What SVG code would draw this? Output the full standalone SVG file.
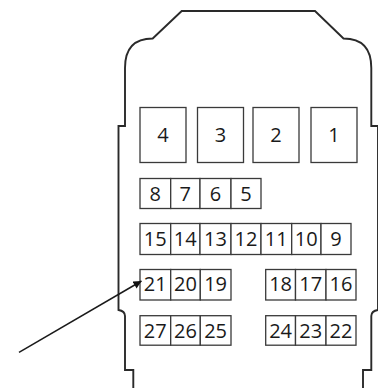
<svg xmlns="http://www.w3.org/2000/svg" width="378" height="388" viewBox="0 0 378 388">
<defs>
<style>
.box{fill:#fff;stroke:#3a3a3a;stroke-width:1.3}
.lbl{font-family:"Open Sans","Noto Sans","Liberation Sans",sans-serif;font-size:20px;font-weight:500;fill:#1a1a1a;text-anchor:middle}
.outline{fill:none;stroke:#2a2a2a;stroke-width:1.9;stroke-linejoin:miter}
.conn{fill:none;stroke:#1a1a1a;stroke-width:1.5}
</style>
<marker id="ah" viewBox="0 0 10 10" refX="10" refY="5" markerWidth="9" markerHeight="8" markerUnits="userSpaceOnUse" orient="auto">
<path d="M0,0 L10,5 L0,10 Z" fill="#111"/>
</marker>
</defs>
<rect width="378" height="388" fill="#fff"/>
<path class="outline" d="M133.3,388 V370 H125 V316 Q125,311 118.5,310 V126 H125 V68 Q125,38.5 152.7,38.5 L181.7,11 H315 L343.5,38.5 Q371.3,38.5 371.3,68 V126 H378 V310 Q371.3,311 371.3,316 V370 H363 V388"/>
<g id="n4"><rect class="box" x="140" y="107.5" width="46" height="55"/><text class="lbl" x="163" y="142">4</text></g>
<g id="n3"><rect class="box" x="197.5" y="107.5" width="46" height="55"/><text class="lbl" x="220.5" y="142">3</text></g>
<g id="n2"><rect class="box" x="253" y="107.5" width="46" height="55"/><text class="lbl" x="276" y="142">2</text></g>
<g id="n1"><rect class="box" x="311" y="107.5" width="46" height="55"/><text class="lbl" x="334" y="142">1</text></g>
<g id="n8"><rect class="box" x="140" y="178.5" width="30.7" height="30"/><text class="lbl" x="155.3" y="200.8">8</text></g>
<g id="n7"><rect class="box" x="170.7" y="178.5" width="29.3" height="30"/><text class="lbl" x="185.3" y="200.8">7</text></g>
<g id="n6"><rect class="box" x="200" y="178.5" width="31" height="30"/><text class="lbl" x="215.5" y="200.8">6</text></g>
<g id="n5"><rect class="box" x="231" y="178.5" width="30" height="30"/><text class="lbl" x="246" y="200.8">5</text></g>
<g id="n15"><rect class="box" x="140" y="223.5" width="30.7" height="31"/><text class="lbl" x="155.3" y="246.3">15</text></g>
<g id="n14"><rect class="box" x="170.7" y="223.5" width="29.3" height="31"/><text class="lbl" x="185.3" y="246.3">14</text></g>
<g id="n13"><rect class="box" x="200" y="223.5" width="31" height="31"/><text class="lbl" x="215.5" y="246.3">13</text></g>
<g id="n12"><rect class="box" x="231" y="223.5" width="30" height="31"/><text class="lbl" x="246" y="246.3">12</text></g>
<g id="n11"><rect class="box" x="261" y="223.5" width="30.7" height="31"/><text class="lbl" x="276.3" y="246.3">11</text></g>
<g id="n10"><rect class="box" x="291.7" y="223.5" width="29.3" height="31"/><text class="lbl" x="306.3" y="246.3">10</text></g>
<g id="n9"><rect class="box" x="321" y="223.5" width="30" height="31"/><text class="lbl" x="336" y="246.3">9</text></g>
<g id="n21"><rect class="box" x="140" y="269.5" width="30.7" height="30.5"/><text class="lbl" x="155.3" y="291.3">21</text></g>
<g id="n20"><rect class="box" x="170.7" y="269.5" width="29.6" height="30.5"/><text class="lbl" x="185.5" y="291.3">20</text></g>
<g id="n19"><rect class="box" x="200.3" y="269.5" width="30.7" height="30.5"/><text class="lbl" x="215.6" y="291.3">19</text></g>
<g id="n18"><rect class="box" x="265.7" y="269.5" width="29.8" height="30.5"/><text class="lbl" x="280.6" y="291.3">18</text></g>
<g id="n17"><rect class="box" x="295.5" y="269.5" width="30.5" height="30.5"/><text class="lbl" x="310.7" y="291.3">17</text></g>
<g id="n16"><rect class="box" x="326" y="269.5" width="30" height="30.5"/><text class="lbl" x="341" y="291.3">16</text></g>
<g id="n27"><rect class="box" x="140" y="315.7" width="30.7" height="29.5"/><text class="lbl" x="155.3" y="337.7">27</text></g>
<g id="n26"><rect class="box" x="170.7" y="315.7" width="29.6" height="29.5"/><text class="lbl" x="185.5" y="337.7">26</text></g>
<g id="n25"><rect class="box" x="200.3" y="315.7" width="30.7" height="29.5"/><text class="lbl" x="215.6" y="337.7">25</text></g>
<g id="n24"><rect class="box" x="265.7" y="315.7" width="29.8" height="29.5"/><text class="lbl" x="280.6" y="337.7">24</text></g>
<g id="n23"><rect class="box" x="295.5" y="315.7" width="30.5" height="29.5"/><text class="lbl" x="310.7" y="337.7">23</text></g>
<g id="n22"><rect class="box" x="326" y="315.7" width="30" height="29.5"/><text class="lbl" x="341" y="337.7">22</text></g>
<g id="connectors">
<line class="conn" x1="19" y1="352.3" x2="141.5" y2="281" marker-end="url(#ah)"/>
</g>
</svg>
